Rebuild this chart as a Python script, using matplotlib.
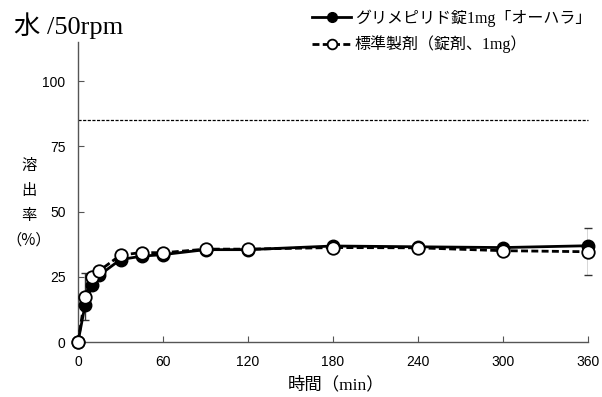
import matplotlib
matplotlib.use("Agg")
import matplotlib.pyplot as plt

time_min = [0, 5, 10, 15, 30, 45, 60, 90, 120, 180, 240, 300, 360]
test_vals = [0, 14.2, 21.8, 25.6, 31.6, 32.9, 33.5, 35.4, 35.4, 36.8, 36.5, 36.2, 36.9]
ref_vals = [0, 17.3, 25.0, 27.3, 33.3, 34.3, 34.2, 35.6, 35.6, 36.2, 36.1, 35.0, 34.6]
ref_err = [0, 9.0, 0, 0, 0, 0, 0, 0, 0, 0, 0, 0, 9.0]
limit_line = 85
xticks = [0, 60, 120, 180, 240, 300, 360]
yticks = [0, 25, 50, 75, 100]
label_test = "グリメピリド錠1mg「オーハラ」"
label_ref = "標準製剤（錠剤、1mg）"
title = "水 /50rpm"
xlabel = "時間（min）"
ylabel = "溶\n出\n率\n（%）"

serif_cjk = ['Liberation Serif', 'Noto Sans CJK JP', 'DejaVu Sans']
cjk = ['Noto Sans CJK JP', 'DejaVu Sans']
fig = plt.figure(figsize=(6.02, 3.97), dpi=100)
ax = fig.add_axes([78/602, 1-342/397, (588-78)/602, (342-42)/397])

ax.axhline(limit_line, color='black', lw=0.9, dashes=(2.5, 1.2))

ax.errorbar(time_min, ref_vals, yerr=ref_err,
            fmt='none', ecolor='#333333', elinewidth=1, capsize=3, capthick=1, zorder=2)
l1, = ax.plot(time_min, test_vals, '-', color='black', lw=2, marker='o', ms=9,
              mfc='black', mec='black', zorder=3)
l2, = ax.plot(time_min, ref_vals, color='black', lw=2, dashes=(2.5, 1.2), marker='o', ms=9,
              mfc='white', mec='black', mew=1.3, zorder=4)

ax.set_xlim(0, 360)
ax.set_ylim(0, 115)
ax.set_xticks(xticks)
ax.set_yticks(yticks)
for s in ['top', 'right']:
    ax.spines[s].set_visible(False)
for s in ['left', 'bottom']:
    ax.spines[s].set_color('#555555')
    ax.spines[s].set_linewidth(1)
ax.tick_params(direction='in', length=4, color='#555555', labelsize=10)
ax.tick_params(axis='x', pad=9)
ax.tick_params(axis='y', pad=9)
for lab in ax.get_xticklabels() + ax.get_yticklabels():
    lab.set_fontfamily('Liberation Sans')
for ln in ax.lines:
    ln.set_clip_on(False)

fig.text(14/602, 1-34/397, title, fontsize=19, family=serif_cjk, ha='left', va='baseline')
fig.text(336/602, 1-385/397, xlabel, fontsize=12.5, family=serif_cjk, ha='center', va='center')
fig.text(29/602, 1-203/397, ylabel, fontsize=11, family=cjk, ha='center', va='center',
         linespacing=1.6)

leg = fig.legend([l1, l2], [label_test, label_ref], loc='upper left',
                 bbox_to_anchor=(306/602, 1-3/397), frameon=False,
                 prop={'family': serif_cjk, 'size': 11.5}, handlelength=2.4, handletextpad=0.25,
                 labelspacing=0.55, borderaxespad=0)
for h in leg.legend_handles:
    h.set_markersize(7)

fig.savefig('out.png', dpi=100)
